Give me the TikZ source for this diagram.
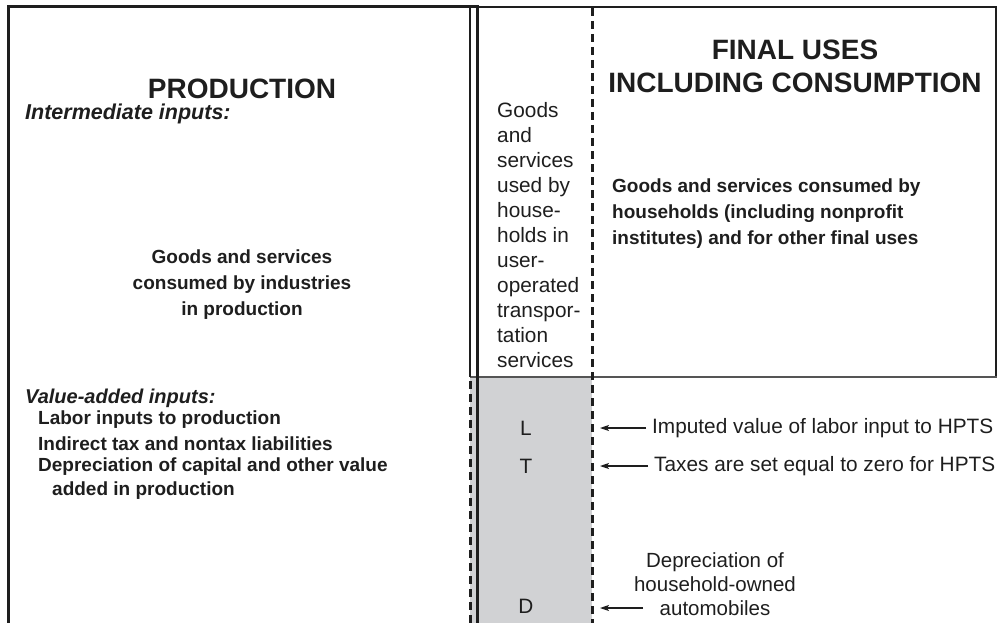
\documentclass[tikz,border=0pt]{standalone}
\usepackage{fontspec}
\setmainfont{Liberation Sans}
\usetikzlibrary{arrows.meta}
\definecolor{ink}{HTML}{1E1E1E}
\definecolor{panelgray}{HTML}{D1D2D4}
\definecolor{rulegray}{HTML}{555555}
\begin{document}
\begin{tikzpicture}[x=1pt,y=-1pt,
  thickline/.style={ink,line width=3pt},
  thinline/.style={ink,line width=1.1pt},
  dashline/.style={ink,line width=3pt,dash pattern=on 8pt off 5pt},
  head/.style={font=\fontsize{28}{33}\selectfont\bfseries,align=center,inner sep=0pt,text=ink},
  lab/.style={font=\fontsize{20}{24.5}\selectfont\bfseries\itshape,inner sep=0pt,anchor=west,text=ink},
  btext/.style={font=\fontsize{19}{25}\selectfont\bfseries,inner sep=0pt,text=ink},
  rtext/.style={font=\fontsize{20.8}{25}\selectfont,inner sep=0pt,text=ink},
  arr/.style={ink,line width=1.2pt,-{Stealth[length=9pt,width=6pt,inset=2pt]}}]
\useasboundingbox (0,0) rectangle (1003,623);
% shaded region
\fill[panelgray] (470,377) rectangle (592,623);
% frame lines
\draw[thickline] (8,623) -- (8,7) -- (479,7);
\draw[ink,line width=2pt] (478,7) -- (996,7) -- (996,378);
\draw[rulegray,line width=2.2pt] (470,377) -- (997,377);
\draw[thinline] (470,7) -- (470,377);
\draw[dashline] (470,381) -- (470,623);
\draw[thickline] (477,7) -- (477,623);
\draw[dashline] (592,8) -- (592,623);
% headings
\node[head] (prod) at (242,89) {PRODUCTION};
\node[head] (final) at (795,66) {FINAL USES\\INCLUDING CONSUMPTION};
% left column
\node[lab,font=\fontsize{21.5}{25}\selectfont\bfseries\itshape] (inter) at (25,114) {Intermediate inputs:};
\node[btext,align=center,font=\fontsize{19}{26}\selectfont\bfseries] (gsind) at (242,284.5) {Goods and services\\consumed by industries\\in production};
\node[lab] (va) at (25,398) {Value-added inputs:};
\node[btext,anchor=west] (labor) at (38,420) {Labor inputs to production};
\node[btext,anchor=west] (itax) at (38,443.5) {Indirect tax and nontax liabilities};
\node[btext,anchor=west] (depc) at (38,467) {Depreciation of capital and other value};
\node[btext,anchor=west] (addp) at (52,491) {added in production};
% middle column
\node[rtext,align=left,anchor=north west] (hpts) at (497,102.5) {Goods\\and\\services\\used by\\house-\\holds in\\user-\\operated\\transpor-\\tation\\services};
\node[rtext] (L) at (526,428) {L};
\node[rtext] (T) at (526,466) {T};
\node[rtext] (D) at (526,606) {D};
% right column
\node[btext,align=left,anchor=north west,font=\fontsize{19}{26}\selectfont\bfseries] (gscons) at (612,179) {Goods and services consumed by\\households (including nonprofit\\institutes) and for other final uses};
\node[rtext,anchor=west,inner xsep=6pt] (imp) at (646,428) {Imputed value of labor input to HPTS};
\node[rtext,anchor=west,inner xsep=6pt] (tax) at (648,466) {Taxes are set equal to zero for HPTS};
\node[rtext,align=center,font=\fontsize{20.5}{24}\selectfont] (dep) at (715,584) {Depreciation of\\household-owned\\automobiles};
\coordinate (impend) at (600,428);
\coordinate (taxend) at (600,466);
\coordinate (depstart) at (643,608);
\coordinate (depend) at (600,608);
\draw[arr] (imp.west) -- (impend);
\draw[arr] (tax.west) -- (taxend);
\draw[arr] (depstart) -- (depend);
\end{tikzpicture}
\end{document}
